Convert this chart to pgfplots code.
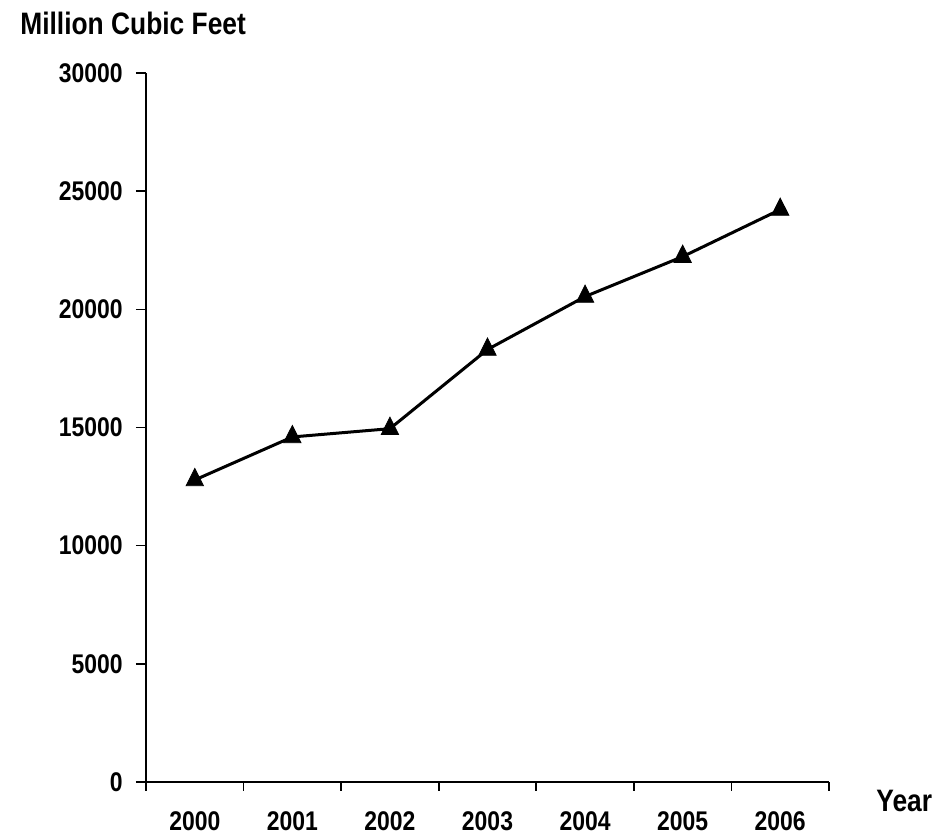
\documentclass[border=0pt]{standalone}
\usepackage{fontspec}
\setmainfont{Liberation Sans}[FakeStretch=0.85]
\usepackage{pgfplots}
\pgfplotsset{compat=1.18}
\begin{document}
\fontsize{13.5pt}{16pt}\selectfont\bfseries
\begin{tikzpicture}
\useasboundingbox (-73pt,-26.5pt) rectangle (402pt,391pt);
\begin{axis}[
  at={(0,0)}, anchor=south west,
  scale only axis,
  width=341.5pt, height=354.5pt,
  xmin=-0.5, xmax=6.5,
  ymin=0, ymax=30000,
  axis x line*=bottom, axis y line*=left,
  axis line style={line width=0.8pt},
  xtick={0,...,6},
  xticklabels={2000,2001,2002,2003,2004,2005,2006},
  minor xtick={-0.5,0.5,...,6.5},
  major x tick style={draw=none},
  minor x tick style={line width=0.8pt, black},
  minor tick length=4.5pt,
  ytick={0,5000,...,30000},
  major tick length=5pt,
  y tick style={line width=0.8pt, black},
  tick align=outside,
  scaled y ticks=false,
  /pgf/number format/assume math mode=true,
  yticklabel={\pgfmathprintnumber[fixed,1000 sep={}]{\tick}},
  xticklabel style={yshift=-5pt},
  yticklabel style={xshift=-2pt},
  tick label style={font=\fontsize{13.5pt}{16pt}\selectfont\bfseries},
  clip=false,
]
\addplot[black, line width=1.5pt, mark=triangle*, mark size=5pt,
  mark options={solid, fill=black, line width=0.4pt, yscale=1.15}]
  coordinates {(0,12780) (1,14600) (2,14950) (3,18300) (4,20540) (5,22230) (6,24220)};
\end{axis}
\node[anchor=west, inner sep=0pt, font=\fontsize{15.5pt}{18pt}\selectfont\bfseries] at (-63pt,379.5pt) {Million Cubic Feet};
\node[anchor=west, inner sep=0pt, font=\fontsize{15.5pt}{18pt}\selectfont\bfseries] at (365pt,-9.5pt) {Year};
\end{tikzpicture}
\end{document}
